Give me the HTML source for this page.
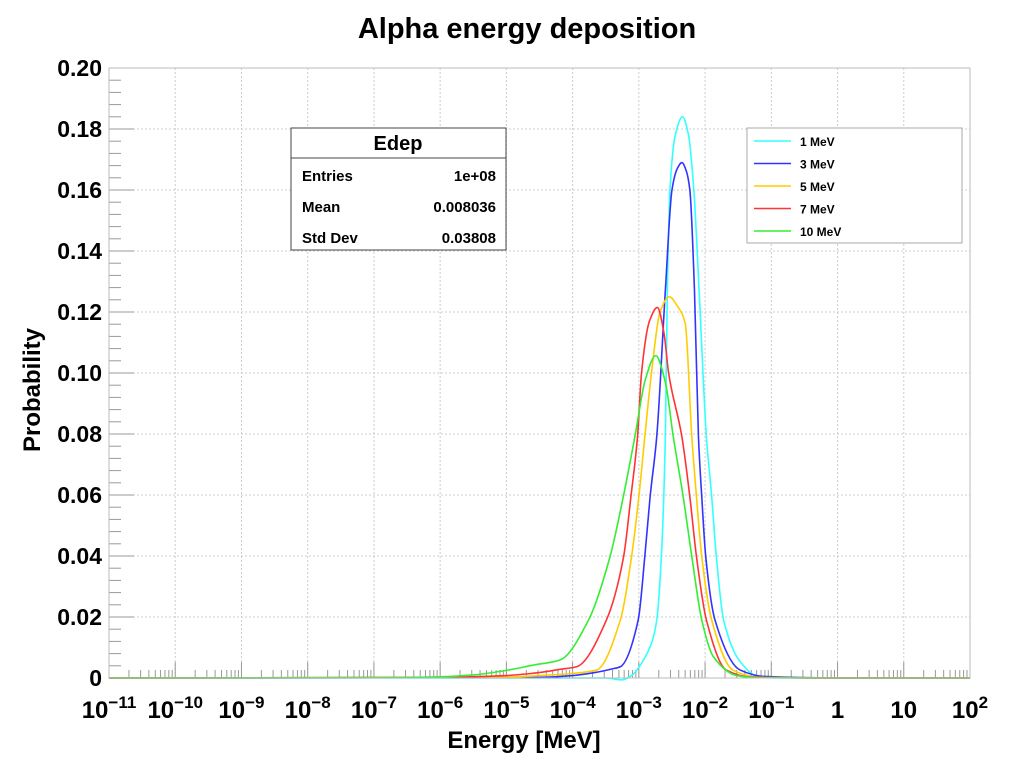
<!DOCTYPE html>
<html><head><meta charset="utf-8"><style>
body{margin:0;background:#fff;}
svg text{font-family:"Liberation Sans",Arial,sans-serif;font-weight:bold;}
</style></head><body>
<svg id="chart" width="1024" height="763" viewBox="0 0 1024 763" xmlns="http://www.w3.org/2000/svg">
<rect width="1024" height="763" fill="#fff"/>
<text x="527" y="38" font-size="29" text-anchor="middle">Alpha energy deposition</text>
<g id="grid"></g>
<g id="axes"></g>
<g id="series"></g>
<rect x="109" y="68" width="861" height="610" fill="none" stroke="#bbb" stroke-width="1"/>
<g>
<rect x="291" y="128" width="215" height="122" fill="#fff" stroke="#444" stroke-width="1"/>
<line x1="291" y1="158" x2="506" y2="158" stroke="#444"/>
<text x="398" y="150" font-size="20" text-anchor="middle">Edep</text>
<text x="302" y="181" font-size="15">Entries</text><text x="496" y="181" font-size="15" text-anchor="end">1e+08</text>
<text x="302" y="212" font-size="15">Mean</text><text x="496" y="212" font-size="15" text-anchor="end">0.008036</text>
<text x="302" y="243" font-size="15">Std Dev</text><text x="496" y="243" font-size="15" text-anchor="end">0.03808</text>
</g>
<g id="legend">
<rect x="747" y="128" width="215" height="115" fill="#fff" stroke="#aaa"/>
</g>
<text x="524" y="748" font-size="24" text-anchor="middle">Energy [MeV]</text>
<text transform="translate(40,390) rotate(-90)" font-size="24" text-anchor="middle">Probability</text>
</svg>
<script>
const xDecades=[-11,-10,-9,-8,-7,-6,-5,-4,-3,-2,-1,0,1,2];
const yTicks=[0,0.02,0.04,0.06,0.08,0.10,0.12,0.14,0.16,0.18,0.20];
const seriesNames=["1 MeV","3 MeV","5 MeV","7 MeV","10 MeV"];
const seriesColors=["#33ffff","#3333ff","#ffcc00","#ff3333","#33ee33"];
const logE1=[-11,-4,-3.5,-3.26,-3.1,-2.96,-2.8,-2.73,-2.66,-2.6,-2.57,-2.53,-2.45,-2.34,-2.25,-2.17,-2.09,-1.98,-1.9,-1.83,-1.72,-1.45,-1.17,-0.8,0,2];
const val1=[0,0,0,-0.0006,0.001,0.0048,0.012,0.019,0.0398,0.0791,0.127,0.16,0.178,0.184,0.178,0.16,0.127,0.0791,0.0594,0.0398,0.019,0.0048,0.0002,0,0,0];
const logE3=[-11,-4.5,-4,-3.69,-3.4,-3.28,-3.01,-2.91,-2.83,-2.73,-2.6,-2.5,-2.42,-2.35,-2.28,-2.23,-2.16,-2.1,-2.05,-1.99,-1.85,-1.47,-1.1,0,2];
const val3=[0,0.0002,0.0008,0.0017,0.003,0.0037,0.019,0.0398,0.0594,0.0791,0.127,0.16,0.167,0.169,0.166,0.16,0.127,0.0791,0.0594,0.0398,0.019,0.0026,0.0005,0,0];
const logE5=[-11,-5,-4.5,-4,-3.64,-3.28,-3.11,-3.0,-2.91,-2.81,-2.68,-2.54,-2.42,-2.3,-2.2,-2.13,-2.05,-1.9,-1.58,-1.2,0,2];
const val5=[0,0.0003,0.0008,0.0015,0.0026,0.019,0.0398,0.0594,0.0791,0.0999,0.12,0.125,0.122,0.1163,0.0791,0.0594,0.0398,0.019,0.0026,0.0003,0,0];
const logE7=[-11,-6,-5,-4.5,-4.2,-3.94,-3.49,-3.23,-3.12,-3.02,-2.96,-2.84,-2.72,-2.62,-2.55,-2.35,-2.23,-2.13,-1.98,-1.68,-1.3,0,2];
const val7=[0,0.0002,0.0008,0.0018,0.0028,0.0037,0.019,0.0398,0.0594,0.0791,0.0999,0.117,0.1215,0.113,0.0999,0.0791,0.0594,0.0398,0.019,0.0026,0.0003,0,0];
const logE10=[-11,-7,-6,-5.5,-5,-4.6,-4.19,-3.76,-3.435,-3.235,-3.06,-2.9,-2.745,-2.6,-2.48,-2.33,-2.2,-2.05,-1.875,-1.52,-1.2,0,2];
const val10=[0,0.0001,0.0004,0.001,0.0025,0.0042,0.0059,0.019,0.0398,0.0594,0.0791,0.098,0.1057,0.097,0.0791,0.0594,0.0398,0.019,0.007,0.0008,0.0001,0,0];
const allX=[logE1,logE3,logE5,logE7,logE10];
const allY=[val1,val3,val5,val7,val10];

const L=109,R=970,T=68,B=678,NS="http://www.w3.org/2000/svg";
const xs=v=>L+(v+11)/13*(R-L);
const ys=v=>B-v/0.2*(B-T);
function mk(tag,attrs,parent){const e=document.createElementNS(NS,tag);for(const k in attrs)e.setAttribute(k,attrs[k]);parent.appendChild(e);return e;}
const grid=document.getElementById('grid'),axes=document.getElementById('axes'),ser=document.getElementById('series'),leg=document.getElementById('legend');
xDecades.forEach((d,i)=>{
  if(i>0&&i<xDecades.length-1){const g=mk('line',{x1:xs(d),x2:xs(d),y1:T,y2:B,stroke:'#ccc','stroke-dasharray':'2,2'},grid);
  
  }
  const t=mk('line',{x1:xs(d),x2:xs(d),y1:B,y2:B-16,stroke:'#999'},axes);
  
  
  if(i<xDecades.length-1)for(let m=2;m<10;m++){const lx=xs(d+Math.log10(m));
    const mt=mk('line',{x1:lx,x2:lx,y1:B,y2:B-8,stroke:'#999'},axes);
    
    }
  const tx=mk('text',{x:xs(d),y:718,'font-size':24,'text-anchor':'middle'},axes);
  
  
  if(d===0)tx.textContent='1';else if(d===1)tx.textContent='10';
  else{tx.textContent='10';const s=mk('tspan',{dy:-10,'font-size':17},tx);s.textContent='\u2212'.repeat(d<0?1:0)+Math.abs(d);}
});
yTicks.forEach((v,i)=>{
  if(i>0&&i<yTicks.length-1){const g=mk('line',{x1:L,x2:R,y1:ys(v),y2:ys(v),stroke:'#ccc','stroke-dasharray':'2,2'},grid);
  
  }
  const t=mk('line',{x1:L,x2:L+25,y1:ys(v),y2:ys(v),stroke:'#999'},axes);
  
  
  if(i<yTicks.length-1)for(let m=1;m<5;m++){const yy=ys(v+m*0.004);
    const mt=mk('line',{x1:L,x2:L+12,y1:yy,y2:yy,stroke:'#999'},axes);
    
    }
  const tx=mk('text',{x:102,y:ys(v)+8,'font-size':23,'text-anchor':'end'},axes);
  
  
  tx.textContent=v===0?'0':v.toFixed(2);
});
// monotone cubic (Fritsch-Carlson) path
function monoPath(px,py){const n=px.length,dx=[],m=[],t=new Array(n);
  for(let i=0;i<n-1;i++){dx.push(px[i+1]-px[i]);m.push((py[i+1]-py[i])/dx[i]);}
  t[0]=m[0];t[n-1]=m[n-2];
  for(let i=1;i<n-1;i++){if(m[i-1]*m[i]<=0)t[i]=0;else{const w1=2*dx[i]+dx[i-1],w2=dx[i]+2*dx[i-1];t[i]=(w1+w2)/(w1/m[i-1]+w2/m[i]);}}
  let d='M'+px[0]+','+py[0];
  for(let i=0;i<n-1;i++){const h=dx[i]/3;
    d+=' C'+(px[i]+h)+','+(py[i]+t[i]*h)+' '+(px[i+1]-h)+','+(py[i+1]-t[i+1]*h)+' '+px[i+1]+','+py[i+1];}
  return d;}
seriesNames.forEach((n,k)=>{
  const px=allX[k].map(xs),py=allY[k].map(ys);
  const p=mk('path',{d:monoPath(px,py),fill:'none',stroke:seriesColors[k],'stroke-width':1.6},ser);
  
  
  const ly=146+k*22.5;
  const ln=mk('line',{x1:754,x2:791,y1:ly-5,y2:ly-5,stroke:seriesColors[k],'stroke-width':1.6},leg);
  
  
  const lt=mk('text',{x:800,y:ly,'font-size':12},leg);
  
  
  lt.textContent=n;
});
</script>
</body></html>
